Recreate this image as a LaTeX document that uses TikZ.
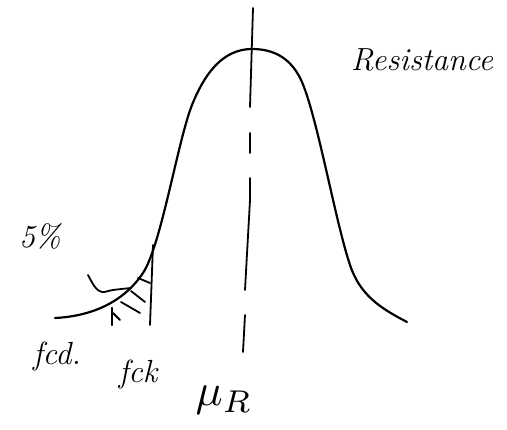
\documentclass[tikz,border=0pt]{standalone}
\usepackage{fontspec}
\usetikzlibrary{arrows.meta}
\begin{document}
\begin{tikzpicture}[x=1pt,y=-1pt,
  pen/.style={line width=2.2pt,line cap=round,line join=round},
  thinpen/.style={line width=1.8pt,line cap=round},
  hand/.style={font=\itshape\fontsize{32}{34}\selectfont,inner sep=0pt}]
\useasboundingbox (0,0) rectangle (507,430);
% bell curve
\coordinate (c0) at (55,318);
\coordinate (c1) at (143,273);
\coordinate (c2) at (192,105);
\coordinate (peak) at (252,49);
\coordinate (c4) at (302,82);
\coordinate (c5) at (350,265);
\coordinate (c6) at (407,322);
\draw[pen] (c0) .. controls (95,316) and (125,300) .. (c1)
  .. controls (161,246) and (178,140) .. (c2)
  .. controls (204,75) and (222,49) .. (peak)
  .. controls (280,49) and (294,64) .. (c4)
  .. controls (318,120) and (335,220) .. (c5)
  .. controls (360,295) and (380,308) .. (c6);
% mean line (solid top then dashes)
\coordinate (mtop) at (253,8);
\coordinate (m1) at (250,107);
\draw[thinpen] (mtop) -- (m1);
\draw[thinpen] (250,133) -- (250,153);
\draw[thinpen] (250,178) -- (250,200) -- (245,290);
\draw[thinpen] (245,315) -- (243,352);
% fck line
\coordinate (ktop) at (153,245);
\coordinate (kbot) at (150,325);
\draw[thinpen] (ktop) -- (kbot);
% hatching
\draw[thinpen] (138,278) -- (150,283);
\draw[thinpen] (131,291) -- (145,302);
\draw[thinpen] (121,302) -- (140,313);
\draw[pen] (112,308) -- (112,325);
\draw[thinpen] (113,313) -- (120,320);
% leader from 5%
\draw[thinpen] plot[smooth,tension=0.6] coordinates {(88,275) (95,287) (102,292) (113,290) (131,288)};
% labels
\node[hand] (res) at (422,60) {Resistance};
\node[hand] (pct) at (40,236) {5\%};
\node[hand] (fcd) at (57,357) {fcd.};
\node[hand] (fck) at (138,375) {fck};
\node[inner sep=0pt] (mu) at (224,400) {\scalebox{4.5}{$\mu_R$}};
\end{tikzpicture}
\end{document}
